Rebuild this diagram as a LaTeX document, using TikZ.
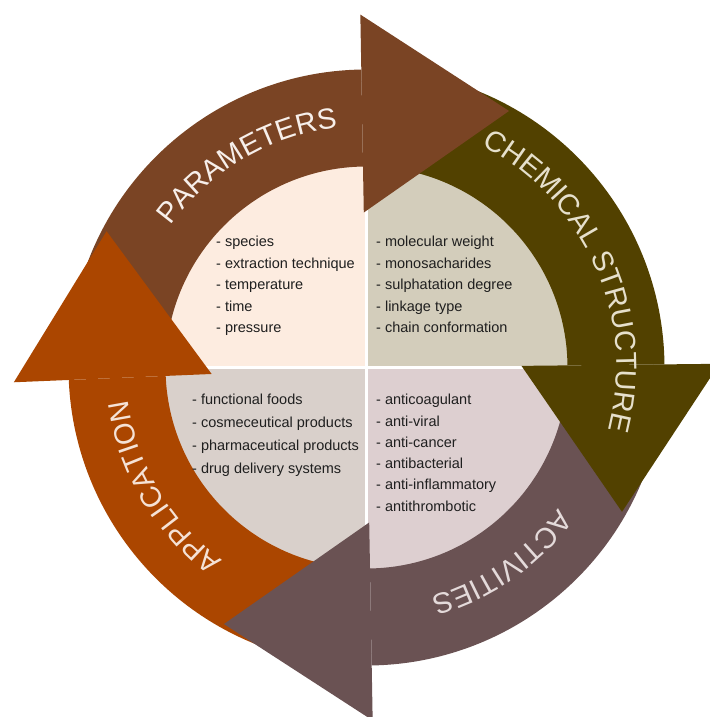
\documentclass[tikz,border=0pt]{standalone}
\usepackage{fontspec}
\setmainfont{Liberation Sans}
\usetikzlibrary{calc,decorations.text}
\definecolor{cpar}{HTML}{7A4424}
\definecolor{cchem}{HTML}{524100}
\definecolor{cact}{HTML}{6A5253}
\definecolor{capp}{HTML}{AB4600}
\definecolor{qpar}{HTML}{FDECE0}
\definecolor{qchem}{HTML}{D3CDBB}
\definecolor{qapp}{HTML}{D9D0CB}
\definecolor{qact}{HTML}{DDCFD0}
\definecolor{tpar}{HTML}{F7EFEA}
\definecolor{tchem}{HTML}{E6E0CC}
\definecolor{tact}{HTML}{E4DADA}
\definecolor{tapp}{HTML}{F5E2D6}
\newcommand\qlistfont{\fontsize{14.5}{17}\selectfont}
\newcommand\arclabelfont{\fontsize{29}{31}\selectfont}

\begin{document}
\begin{tikzpicture}[>=latex, x=1pt, y=1pt,
	item/.style={font=\qlistfont, text=black!88, anchor=base west, inner sep=0pt},
	arclabel/.style={decorate, decoration={text along path, text align=center, text={#1}}}]
	\useasboundingbox (-366.5,-349.5) rectangle (342.5,367.5);
	%\draw [help lines] (-350,-350) grid (350,350);
	\fill[qpar] (0,0) -- (90:202) arc[start angle=90, end angle=180, radius=202pt] -- cycle;
	\fill[qchem] (0,0) -- (0:202) arc[start angle=0, end angle=90, radius=202pt] -- cycle;
	\fill[qact] (0,0) -- (-90:202) arc[start angle=-90, end angle=0, radius=202pt] -- cycle;
	\fill[qapp] (0,0) -- (180:202) arc[start angle=180, end angle=270, radius=202pt] -- cycle;
	\draw[white, line width=3pt] (0,-203) -- (0,203);
	\draw[white, line width=3pt] (-203,0) -- (203,0);
	% shafts first, then the heads on top of the next tail
	\foreach \tail/\base/\col in {172/91/cpar, 81/0.6/cchem, -9/-89/cact, -99/-177.6/capp}
		\fill[\col] (\tail:298) arc[start angle=\tail, end angle=\base, radius=298pt]
			-- (\base:201) arc[start angle=\base, end angle=\tail, radius=201pt] -- cycle;
	\foreach \base/\col in {91/cpar, 0.6/cchem, -89/cact, -177.6/capp}
		\fill[\col] (\base:155) -- (\base:353) -- ($(\base:254)+(\base-90:147)$) -- cycle;
	\path[arclabel={|\arclabelfont\color{tpar}|PARAMETERS}] (180.5:242) arc[start angle=180.5, end angle=60.5, radius=242pt];
	\path[arclabel={|\arclabelfont\color{tchem}|CHEMICAL STRUCTURE}] (89:250) arc[start angle=89, end angle=-41, radius=250pt];
	\path[arclabel={|\arclabelfont\color{tact}|ACTIVITIES}] (4.7:238) arc[start angle=4.7, end angle=-115.3, radius=238pt];
	\path[arclabel={|\arclabelfont\color{tapp}|APPLICATION}] (270.5:241) arc[start angle=270.5, end angle=150.5, radius=241pt];
	\foreach \t [count=\i] in {species, extraction technique, temperature, time, pressure}
		\node[item] (par-\i) at (-150.5, 142-21.5*\i) {- \t};
	\foreach \t [count=\i] in {molecular weight, monosacharides, sulphatation degree, linkage type, chain conformation}
		\node[item] (chem-\i) at (9.5, 142-21.5*\i) {- \t};
	\foreach \t [count=\i] in {functional foods, cosmeceutical products, pharmaceutical products, drug delivery systems}
		\node[item] (app-\i) at (-174.5, -14.4-22.8*\i) {- \t};
	\foreach \t [count=\i] in {anticoagulant, anti-viral, anti-cancer, antibacterial, anti-inflammatory, antithrombotic}
		\node[item] (act-\i) at (9.5, -15.9-21.3*\i) {- \t};
\end{tikzpicture}
\end{document}
